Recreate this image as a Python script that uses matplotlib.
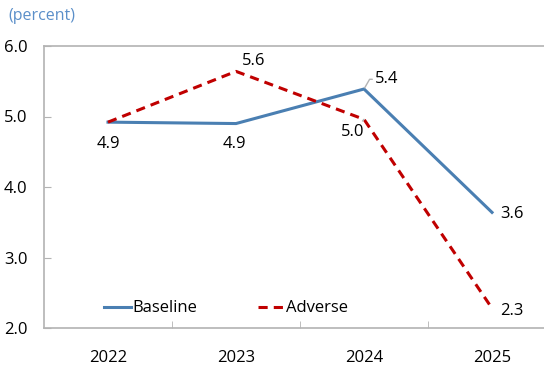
import matplotlib
matplotlib.use("Agg")
import matplotlib.pyplot as plt

years = ["2022", "2023", "2024", "2025"]
baseline = [4.92, 4.90, 5.39, 3.64]
adverse = [4.92, 5.64, 4.96, 2.28]
yticks = [2.0, 3.0, 4.0, 5.0, 6.0]

plt.rcParams['font.family'] = ['Open Sans', 'DejaVu Sans']

fig = plt.figure(figsize=(5.44, 3.75), dpi=100)
ax = fig.add_axes([44/544, 47/375, 512/544, 282/375])

x = list(range(1, len(years) + 1))
blue = "#4a7fb2"
red = "#c00000"
ax.plot(x, baseline, color=blue, lw=2.2, label="Baseline", solid_joinstyle="miter")
ax.plot(x, adverse, color=red, lw=2.2, ls=(0, (3, 2)), label="Adverse")

ax.set_xlim(0.5, 4.5)
ax.set_ylim(2.0, 6.0)
ax.set_yticks(yticks)
ax.set_yticklabels([f"{v:.1f}" for v in yticks])
ax.set_xticks(x)
ax.set_xticklabels(years)
ax.set_xticks([1.5, 2.5, 3.5], minor=True)

gray = "#b3b3b3"
for s in ["left", "top", "bottom"]:
    ax.spines[s].set_color(gray)
    ax.spines[s].set_linewidth(1.2)
ax.spines["right"].set_visible(False)
ax.tick_params(axis="y", direction="in", length=5, color=gray, pad=12, labelsize=12)
ax.tick_params(axis="x", which="major", length=0, pad=16, labelsize=12)
ax.tick_params(axis="x", which="minor", direction="in", length=5, color=gray)

fs = 12
def lab(v):
    return f"{v:.1f}"

# Baseline labels
ax.annotate(lab(baseline[0]), (x[0], baseline[0]), xytext=(0, -10), textcoords="offset points",
            ha="center", va="top", fontsize=fs)
ax.annotate(lab(baseline[1]), (x[1], baseline[1]), xytext=(-1, -9), textcoords="offset points",
            ha="center", va="top", fontsize=fs)
ax.annotate(lab(baseline[2]), (x[2], baseline[2]), xytext=(8, 7), textcoords="offset points",
            ha="left", va="center", fontsize=fs,
            arrowprops=dict(arrowstyle="-", color=gray, lw=1, shrinkA=0, shrinkB=1,
                            connectionstyle="angle,angleA=0,angleB=60,rad=0"))
ax.annotate(lab(baseline[3]), (x[3], baseline[3]), xytext=(6, -1), textcoords="offset points",
            ha="left", va="center", fontsize=fs)
# Adverse labels
ax.annotate(lab(adverse[1]), (x[1], adverse[1]), xytext=(13, 2), textcoords="offset points",
            ha="center", va="bottom", fontsize=fs)
ax.annotate(lab(adverse[2]), (x[2], adverse[2]), xytext=(-8, -9), textcoords="offset points",
            ha="center", va="center", fontsize=fs,
            arrowprops=dict(arrowstyle="-", color=gray, lw=1, shrinkA=0, shrinkB=2))
ax.annotate(lab(adverse[3]), (x[3], adverse[3]), xytext=(6, -2), textcoords="offset points",
            ha="left", va="center", fontsize=fs)

leg = ax.legend(loc="lower left", bbox_to_anchor=(0.095, 0.0), ncol=2, frameon=False,
                fontsize=12, handlelength=1.6, handletextpad=0.1, columnspacing=3.6,
                borderaxespad=0.3)

fig.text(8/544, 1 - 16/375, "(percent)", color="#5b8fc9", fontsize=11.5, ha="left", va="center")

fig.savefig("out.png", dpi=100)
